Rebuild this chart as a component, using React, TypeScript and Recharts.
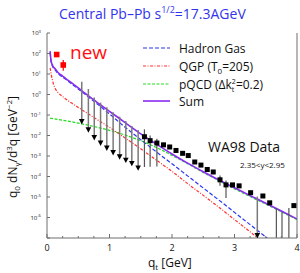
import React from 'react';
import { ComposedChart, Line, Scatter, XAxis, YAxis, ErrorBar } from 'recharts';

// ---------- curves ----------
const sumQ = [0.05, 0.065, 0.09, 0.13, 0.18, 0.25, 0.3, 0.4, 0.5, 0.6, 0.7, 0.8, 0.9, 1.0, 1.25, 1.5, 1.75, 2.0, 2.25, 2.5, 2.75, 3.0, 3.25, 3.5, 3.75, 4.0];
const sumV = [1.3e2, 4.5e1, 2.6e1, 1.8e1, 1.15e1, 7.9, 6.0, 3.55, 2.09, 1.2, 0.708, 0.417, 0.251, 0.151, 4.27e-2, 1.2e-2, 3.8e-3, 1.26e-3, 4.47e-4, 1.7e-4, 6.76e-5, 2.82e-5, 1.17e-5, 5.0e-6, 2.09e-6, 8.5e-7];

const hgQ = [0.05, 0.065, 0.09, 0.13, 0.18, 0.25, 0.3, 0.4, 0.5, 0.6, 0.7, 0.8, 0.9, 1.0, 1.25, 1.5, 1.75, 2.0, 2.25, 2.5, 2.75, 3.0, 3.25, 3.5, 3.6];
const hgV = [1.12e2, 3.98e1, 2.34e1, 1.58e1, 1.02e1, 7.08, 5.5, 3.16, 1.86, 1.07, 0.617, 0.355, 0.2, 0.112, 2.51e-2, 6.3e-3, 1.58e-3, 4.17e-4, 1.07e-4, 2.75e-5, 7.1e-6, 1.78e-6, 4.5e-7, 1.12e-7, 6.3e-8];

const qgpQ = [0.05, 0.07, 0.1, 0.13, 0.18, 0.23, 0.3, 0.4, 0.5, 0.6, 0.77, 1.0, 1.25, 1.5, 1.75, 2.0, 2.25, 2.5, 2.75, 3.0, 3.25, 3.45];
const qgpV = [20, 8.9, 3.55, 2.0, 1.2, 0.89, 0.6, 0.37, 0.234, 0.148, 0.069, 2.51e-2, 7.6e-3, 2.24e-3, 6.3e-4, 1.78e-4, 4.5e-5, 1.2e-5, 3.16e-6, 7.9e-7, 2.0e-7, 6.3e-8];

const pqcdQ = [0.05, 0.25, 0.5, 0.75, 1.0, 1.25, 1.5, 1.75, 2.0, 2.25, 2.5, 2.75, 3.0, 3.25, 3.5, 3.75, 4.0];
const pqcdV = [6.9e-2, 5.6e-2, 4.0e-2, 2.75e-2, 1.78e-2, 1.05e-2, 5.6e-3, 2.6e-3, 1.07e-3, 4.2e-4, 1.58e-4, 6.3e-5, 2.5e-5, 1.05e-5, 4.5e-6, 1.9e-6, 7.9e-7];

// ---------- WA98 data ----------
// upper limits: arrow position and top of the bar
const ulQ = [0.556, 0.662, 0.756, 0.857, 0.957, 1.058, 1.162, 1.261, 1.357, 1.458, 3.365];
const ulTip = [4.7e-2, 1.86e-2, 7.9e-3, 4.2e-3, 2.4e-3, 1.45e-3, 9.1e-4, 6.2e-4, 4.3e-4, 2.6e-4, 1.3e-7];
const ulTop = [4.2, 1.86, 0.72, 0.4, 0.24, 0.135, 0.083, 0.051, 0.029, 0.0186, 1.05e-5];

// measured points
const ptQ = [1.559, 1.65, 1.758, 1.864, 1.963, 2.064, 2.17, 2.26, 2.364, 2.463, 2.564, 2.66, 2.768, 2.864, 2.968, 3.074, 3.258, 3.454, 3.563, 3.95];
const ptV = [8.7e-3, 5.6e-3, 4.3e-3, 3.5e-3, 2.75e-3, 1.86e-3, 1.35e-3, 1.05e-3, 5.1e-4, 3.6e-4, 2.2e-4, 1.66e-4, 6.9e-5, 3.9e-5, 3.9e-5, 3.5e-5, 1.62e-5, 1.12e-5, 5.2e-6, 3.8e-6];
const ptLo = [2.9e-4, 3.0e-4, 3.1e-4, 3.5e-3, 2.75e-3, 1.86e-3, 1.35e-3, 1.05e-3, 5.1e-4, 3.6e-4, 2.2e-4, 1.66e-4, 3.5e-5, 8.9e-6, 3.9e-5, 3.5e-5, 1.62e-5, 1.12e-5, 5.2e-6, 3.8e-6];
const ptHi = [2.0e-2, 1.0e-2, 7.0e-3, 3.5e-3, 2.75e-3, 1.86e-3, 1.35e-3, 1.05e-3, 5.1e-4, 3.6e-4, 2.2e-4, 1.66e-4, 1.12e-4, 6.3e-5, 3.9e-5, 3.5e-5, 1.62e-5, 1.12e-5, 5.2e-6, 3.8e-6];

// bars running off the bottom of the frame
const barQ = [3.67, 3.76, 3.87];
const barTop = [2.9e-6, 1.9e-6, 2.9e-6];
const barBottom = [1e-7, 1e-7, 1e-7];

// "new" points
const newQ = [0.155, 0.26];
const newV = [89, 27.5];
const newLo = [89, 14.5];
const newHi = [89, 48];

const xTicks = [0, 0.25, 0.5, 0.75, 1, 1.25, 1.5, 1.75, 2, 2.25, 2.5, 2.75, 3, 3.25, 3.5, 3.75, 4];
const yTicks = [1e3, 1e2, 1e1, 1e0, 1e-1, 1e-2, 1e-3, 1e-4, 1e-5, 1e-6, 1e-7];

const curve = (qs: number[], vs: number[]) => qs.map((q, i) => ({ q, v: vs[i] }));
const sumData = curve(sumQ, sumV);
const hgData = curve(hgQ, hgV);
const qgpData = curve(qgpQ, qgpV);
const pqcdData = curve(pqcdQ, pqcdV);
const ulData = ulQ.map((q, i) => ({ q, v: ulTip[i], err: [0, ulTop[i] - ulTip[i]] }));
const ptData = ptQ.map((q, i) => ({ q, v: ptV[i], err: [ptV[i] - ptLo[i], ptHi[i] - ptV[i]] }));
const barData = barQ.map((q, i) => ({ q, v: barTop[i], err: [barTop[i] - barBottom[i], 0] }));
const newData = newQ.map((q, i) => ({ q, v: newV[i], err: [newV[i] - newLo[i], newHi[i] - newV[i]] }));

const FONT = '"Open Sans", "Noto Sans", sans-serif';
const FRAME = '#6e6e6e';
const isMajor = (v: number) => Math.abs(v - Math.round(v)) < 1e-6;

const BottomTick = (p: any) => {
  const v = p.payload.value;
  const m = isMajor(v);
  return (
    <g>
      <line x1={p.x} x2={p.x} y1={p.y} y2={p.y - (m ? 4 : 2)} stroke={FRAME} />
      {m && (
        <text x={p.x} y={p.y + 12.5} textAnchor="middle" fontSize={9} fontFamily={FONT} fill="#111">
          {v}
        </text>
      )}
    </g>
  );
};
const TopTick = (p: any) => {
  const v = p.payload.value;
  const m = isMajor(v);
  return <line x1={p.x} x2={p.x} y1={p.y} y2={p.y + (m ? 4 : 2)} stroke={FRAME} />;
};
const LeftTick = (p: any) => {
  const v = p.payload.value;
  const e = Math.round(Math.log10(v));
  return (
    <g>
      <line x1={p.x} x2={p.x + 3} y1={p.y} y2={p.y} stroke={FRAME} />
      {e > -7 && (
        <text x={p.x - 6} y={p.y + 2} textAnchor="end" fontFamily={FONT} fill="#222" fontSize={6}>
          <tspan>10</tspan>
          <tspan dy={-2.5} fontSize={4.2}>{e}</tspan>
        </text>
      )}
    </g>
  );
};
const RightTick = (p: any) => <line x1={p.x} x2={p.x - 3} y1={p.y} y2={p.y} stroke={FRAME} />;

const SquareShape = (p: any) => <rect x={p.cx - 2.5} y={p.cy - 2.5} width={5} height={5} fill="#000" />;
const RedSquare = (p: any) => <rect x={p.cx - 2.8} y={p.cy - 2.8} width={5.6} height={5.6} fill="#ff0000" />;
const ArrowShape = (p: any) => (
  <polygon points={`${p.cx - 2.8},${p.cy - 2.6} ${p.cx + 2.8},${p.cy - 2.6} ${p.cx},${p.cy + 2.8}`} fill="#000" />
);
const NoShape = () => <g />;

export default function App() {
  return (
    <div style={{ position: 'absolute', left: 0, top: 0, width: 300, height: 273, background: '#fff' }}>
      <ComposedChart width={300} height={273} margin={{ top: 33, right: 0, bottom: 0, left: 0 }}>
        <XAxis
          xAxisId={0}
          dataKey="q"
          type="number"
          domain={[0, 4]}
          ticks={xTicks}
          interval={0}
          height={35}
          tickSize={0}
          tickMargin={0}
          tickLine={false}
          axisLine={{ stroke: FRAME }}
          tick={BottomTick}
          allowDataOverflow
        />
        <XAxis
          xAxisId="top"
          orientation="top"
          type="number"
          domain={[0, 4]}
          ticks={xTicks}
          interval={0}
          height={0}
          tickSize={0}
          tickMargin={0}
          tickLine={false}
          axisLine={{ stroke: FRAME }}
          tick={TopTick}
        />
        <YAxis
          yAxisId={0}
          type="number"
          scale="log"
          domain={[1e-7, 1e3]}
          ticks={yTicks}
          interval={0}
          width={47}
          tickSize={0}
          tickMargin={0}
          tickLine={false}
          axisLine={{ stroke: FRAME }}
          tick={LeftTick}
          allowDataOverflow
        />
        <YAxis
          yAxisId="right"
          orientation="right"
          type="number"
          scale="log"
          domain={[1e-7, 1e3]}
          ticks={yTicks}
          interval={0}
          width={3}
          tickSize={0}
          tickMargin={0}
          tickLine={false}
          axisLine={{ stroke: FRAME }}
          tick={RightTick}
        />
        <Line data={pqcdData} dataKey="v" type="monotone" stroke="#22dd22" strokeWidth={1.2} strokeDasharray="3 1.5" dot={false} activeDot={false} isAnimationActive={false} />
        <Line data={qgpData} dataKey="v" type="monotone" stroke="#ff3030" strokeWidth={1.2} strokeDasharray="3 1.5 1 1.5" dot={false} activeDot={false} isAnimationActive={false} />
        <Line data={hgData} dataKey="v" type="monotone" stroke="#2a35f0" strokeWidth={1.2} strokeDasharray="4 2" dot={false} activeDot={false} isAnimationActive={false} />
        <Line data={sumData} dataKey="v" type="monotone" stroke="#8a2cf0" strokeWidth={1.6} dot={false} activeDot={false} isAnimationActive={false} />
        <Scatter data={ulData} dataKey="v" shape={ArrowShape} isAnimationActive={false}>
          <ErrorBar dataKey="err" direction="y" width={0} stroke="#7a7a7a" strokeWidth={1.5} />
        </Scatter>
        <Scatter data={barData} dataKey="v" shape={NoShape} isAnimationActive={false}>
          <ErrorBar dataKey="err" direction="y" width={0} stroke="#555" strokeWidth={1.2} />
        </Scatter>
        <Scatter data={ptData} dataKey="v" shape={SquareShape} isAnimationActive={false}>
          <ErrorBar dataKey="err" direction="y" width={0} stroke="#555" strokeWidth={1.2} />
        </Scatter>
        <Scatter data={newData} dataKey="v" shape={RedSquare} isAnimationActive={false}>
          <ErrorBar dataKey="err" direction="y" width={0} stroke="#ff0000" strokeWidth={1.2} />
        </Scatter>
      </ComposedChart>
      <svg width={300} height={273} style={{ position: 'absolute', left: 0, top: 0, pointerEvents: 'none' }} fontFamily={FONT}>
        <text x={59} y={19} fontSize={14} fill="#3333ee">
          <tspan>Central Pb–Pb  s</tspan>
          <tspan dy={-6} fontSize={9}>1/2</tspan>
          <tspan dy={6}>=17.3AGeV</tspan>
        </text>
        <text x={70} y={59} fontSize={19} fill="#ff1010">new</text>
        <text x={208} y={152} fontSize={14} fill="#111">WA98 Data</text>
        <text x={240} y={168} fontSize={8} fill="#111">2.35&lt;y&lt;2.95</text>
        {/* legend */}
        <line x1={143} x2={170} y1={48} y2={48} stroke="#2a35f0" strokeWidth={1.2} strokeDasharray="4 2" />
        <line x1={143} x2={170} y1={66} y2={66} stroke="#ff3030" strokeWidth={1.2} strokeDasharray="3 1.5 1 1.5" />
        <line x1={143} x2={170} y1={84} y2={84} stroke="#22dd22" strokeWidth={1.2} strokeDasharray="3 1.5" />
        <line x1={143} x2={170} y1={101} y2={101} stroke="#8a2cf0" strokeWidth={1.6} />
        <text x={179} y={52.5} fontSize={12} fill="#111">Hadron Gas</text>
        <text x={179} y={70.5} fontSize={12} fill="#111">
          <tspan>QGP (T</tspan>
          <tspan dy={3} fontSize={8}>0</tspan>
          <tspan dy={-3}>=205)</tspan>
        </text>
        <text x={179} y={88.5} fontSize={12} fill="#111">
          <tspan>pQCD (Δk</tspan>
          <tspan dy={3} fontSize={7}>t</tspan>
          <tspan dx={-2.5} dy={-8} fontSize={7}>2</tspan>
          <tspan dy={5}>=0.2)</tspan>
        </text>
        <text x={179} y={105.5} fontSize={12} fill="#111">Sum</text>
        {/* axis titles */}
        <text x={148} y={267} fontSize={12} fill="#111">
          <tspan>q</tspan>
          <tspan dy={3} fontSize={8}>t</tspan>
          <tspan dy={-3}> [GeV]</tspan>
        </text>
        <text transform="translate(17,147) rotate(-90)" textAnchor="middle" fontSize={12} fill="#111">
          <tspan>q</tspan>
          <tspan dy={3} fontSize={8}>0</tspan>
          <tspan dy={-3}> dN</tspan>
          <tspan dy={3} fontSize={8}>γ</tspan>
          <tspan dy={-3}>/d</tspan>
          <tspan dy={-5} fontSize={8}>3</tspan>
          <tspan dy={5}>q [GeV</tspan>
          <tspan dy={-5} fontSize={8}>−2</tspan>
          <tspan dy={5}>]</tspan>
        </text>
      </svg>
    </div>
  );
}
